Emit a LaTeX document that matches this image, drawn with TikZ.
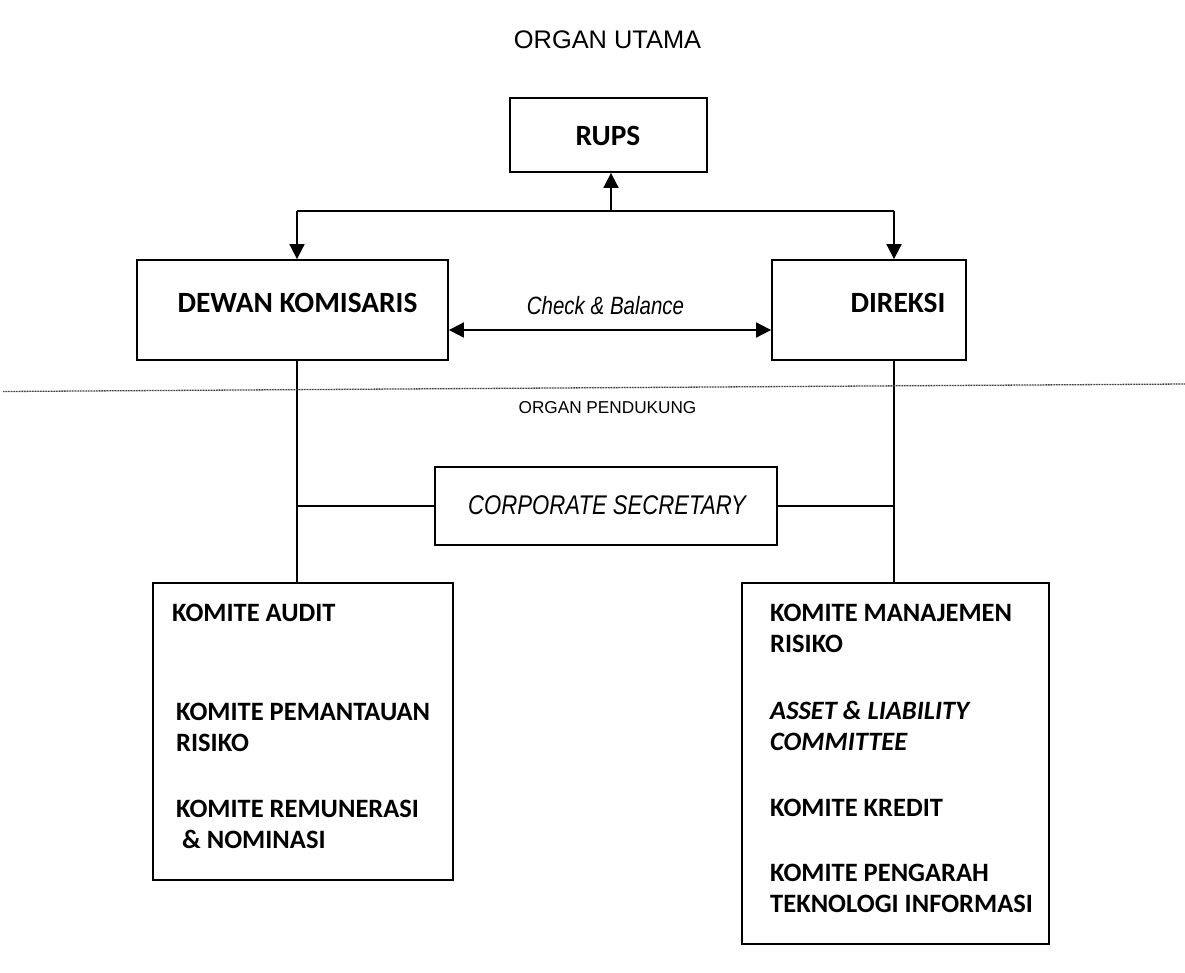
\documentclass[tikz,border=0pt]{standalone}
\usepackage{fontspec}
\setmainfont{Liberation Sans}
\newfontfamily\calib{Carlito}
\newfontfamily\narrowf[FakeStretch=0.82]{Liberation Sans}
\usetikzlibrary{arrows.meta}
\begin{document}
\begin{tikzpicture}[x=1pt,y=-1pt,
  box/.style={draw,line width=1.8pt,inner sep=0pt},
  conn/.style={line width=1.8pt},
  arr/.style={-{Triangle[length=15pt,width=15pt]}},
  arrboth/.style={{Triangle[length=15pt,width=15pt]}-{Triangle[length=15pt,width=15pt]}},
  dotline/.style={line width=1.3pt,black!75,dash pattern=on 1pt off 0.6pt},
  boxlabel/.style={inner sep=0pt,font=\calib\bfseries\fontsize{29.4}{33}\selectfont},
  item/.style={inner sep=0pt,anchor=base west,align=left,font=\calib\bfseries\fontsize{26.5}{31}\selectfont}]
\useasboundingbox (0,0) rectangle (1185,972);

% titles
\node[inner sep=0pt,font=\fontsize{25.4}{28}\selectfont] (title) at (607.5,40) {ORGAN UTAMA};
\node[inner sep=0pt,font=\fontsize{17.2}{20}\selectfont] (pend) at (607.5,408) {ORGAN PENDUKUNG};

% boxes
\node[box,minimum width=197pt,minimum height=74pt] (rups) at (608.5,135) {};
\node[box,minimum width=311pt,minimum height=100pt] (dewan) at (292.5,310) {};
\node[box,minimum width=194pt,minimum height=100pt] (direksi) at (869,310) {};
\node[box,minimum width=342pt,minimum height=78pt] (corp) at (606,506) {};
\node[box,minimum width=300pt,minimum height=297pt] (audit) at (303,731.5) {};
\node[box,minimum width=307pt,minimum height=361pt] (mr) at (895.5,763.5) {};

% box labels
\node[boxlabel] (rupsT) at (608,136) {RUPS};
\node[boxlabel] (dewanT) at (297.5,303) {DEWAN KOMISARIS};
\node[boxlabel] (direksiT) at (898,303) {DIREKSI};
\node[inner sep=0pt,font=\narrowf\itshape\fontsize{27}{30}\selectfont] (corpT) at (607,505) {CORPORATE SECRETARY};
\node[inner sep=0pt,font=\narrowf\itshape\fontsize{25}{28}\selectfont] (cbT) at (605.5,306) {Check \& Balance};

% connectors
\coordinate (jL) at (297,211);
\coordinate (jM) at (611,211);
\coordinate (jR) at (894,211);
\draw[conn] (jL) -- (jR);
\draw[conn,arr] (jM) -- (jM |- rups.south);
\draw[conn,arr] (jL) -- (jL |- dewan.north);
\draw[conn,arr] (jR) -- (jR |- direksi.north);
\draw[conn,arrboth] ([yshift=-20pt]dewan.east) -- ([yshift=-20pt]direksi.west);
\draw[conn] (dewan.south -| jL) -- (audit.north -| jL);
\draw[conn] (direksi.south -| jR) -- (mr.north -| jR);
\draw[conn] (corp.west) -- (corp.west -| jL);
\draw[conn] (corp.east) -- (corp.east -| jR);

% dotted separator
\coordinate (dl) at (3,391.5);
\coordinate (dr) at (1185,384);
\draw[dotline] (dl) -- (dr);

% left committees (anchor = baseline of last line)
\node[item] (a1) at (172,621) {KOMITE AUDIT};
\node[item] (a2) at (176,751) {KOMITE PEMANTAUAN\\RISIKO};
\node[item] (a3) at (176,848) {KOMITE REMUNERASI\\\ \& NOMINASI};

% right committees
\node[item] (b1) at (770,652) {KOMITE MANAJEMEN\\RISIKO};
\node[item] (b2) at (770,750) {\itshape ASSET \& LIABILITY\\\itshape COMMITTEE};
\node[item] (b3) at (770,816) {KOMITE KREDIT};
\node[item] (b4) at (770,912) {KOMITE PENGARAH\\TEKNOLOGI INFORMASI};
\end{tikzpicture}
\end{document}
